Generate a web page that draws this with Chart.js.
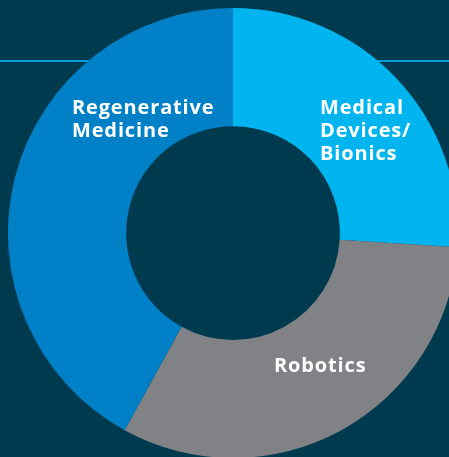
<!DOCTYPE html>
<html>
<head>
<meta charset="utf-8">
<script src="https://cdn.jsdelivr.net/npm/chart.js@4.4.1/dist/chart.umd.min.js"></script>
<style>
    html, body { margin: 0; padding: 0; }
    body {
        width: 449px;
        height: 457px;
        overflow: hidden;
        position: relative;
        background: #003a4f;
        font-family: "Open Sans", "Noto Sans", sans-serif;
    }
    .rule {
        position: absolute;
        left: 0;
        top: 60px;
        width: 449px;
        height: 2px;
        background: #0a9bd8;
    }
    #wrap {
        position: absolute;
        left: 0;
        top: 0;
        width: 466px;
        height: 466px;
    }
    .label {
        position: absolute;
        color: #fff;
        font-weight: 700;
        font-size: 20px;
        line-height: 23px;
        letter-spacing: 0.85px;
        white-space: nowrap;
    }
</style>
</head>
<body>
<div class="rule"></div>
<div id="wrap"><canvas id="donut" width="466" height="466"></canvas></div>
<div class="label" style="left:72px; top:95px;">Regenerative<br>Medicine</div>
<div class="label" style="left:320px; top:95px;">Medical<br>Devices/<br>Bionics</div>
<div class="label" style="left:274px; top:353px;">Robotics</div>
<script>
// sectors, clockwise from 12 o'clock (share of total, %)
const sectors = ['Medical Devices/Bionics', 'Robotics', 'Regenerative Medicine'];
const shares = [26, 32, 42];
const sectorColors = ['#00b5ef', '#808285', '#0080c6'];

document.addEventListener('DOMContentLoaded', () => {
    const ctx = document.getElementById('donut').getContext('2d');
    new Chart(ctx, {
        type: 'doughnut',
        data: {
            labels: sectors,
            datasets: [{
                data: shares,
                backgroundColor: sectorColors,
                borderWidth: 0
            }]
        },
        options: {
            responsive: false,
            animation: false,
            cutout: '47.5%',
            layout: { padding: 8 },
            plugins: {
                legend: { display: false },
                tooltip: { enabled: false }
            }
        }
    });
});
</script>
</body>
</html>
